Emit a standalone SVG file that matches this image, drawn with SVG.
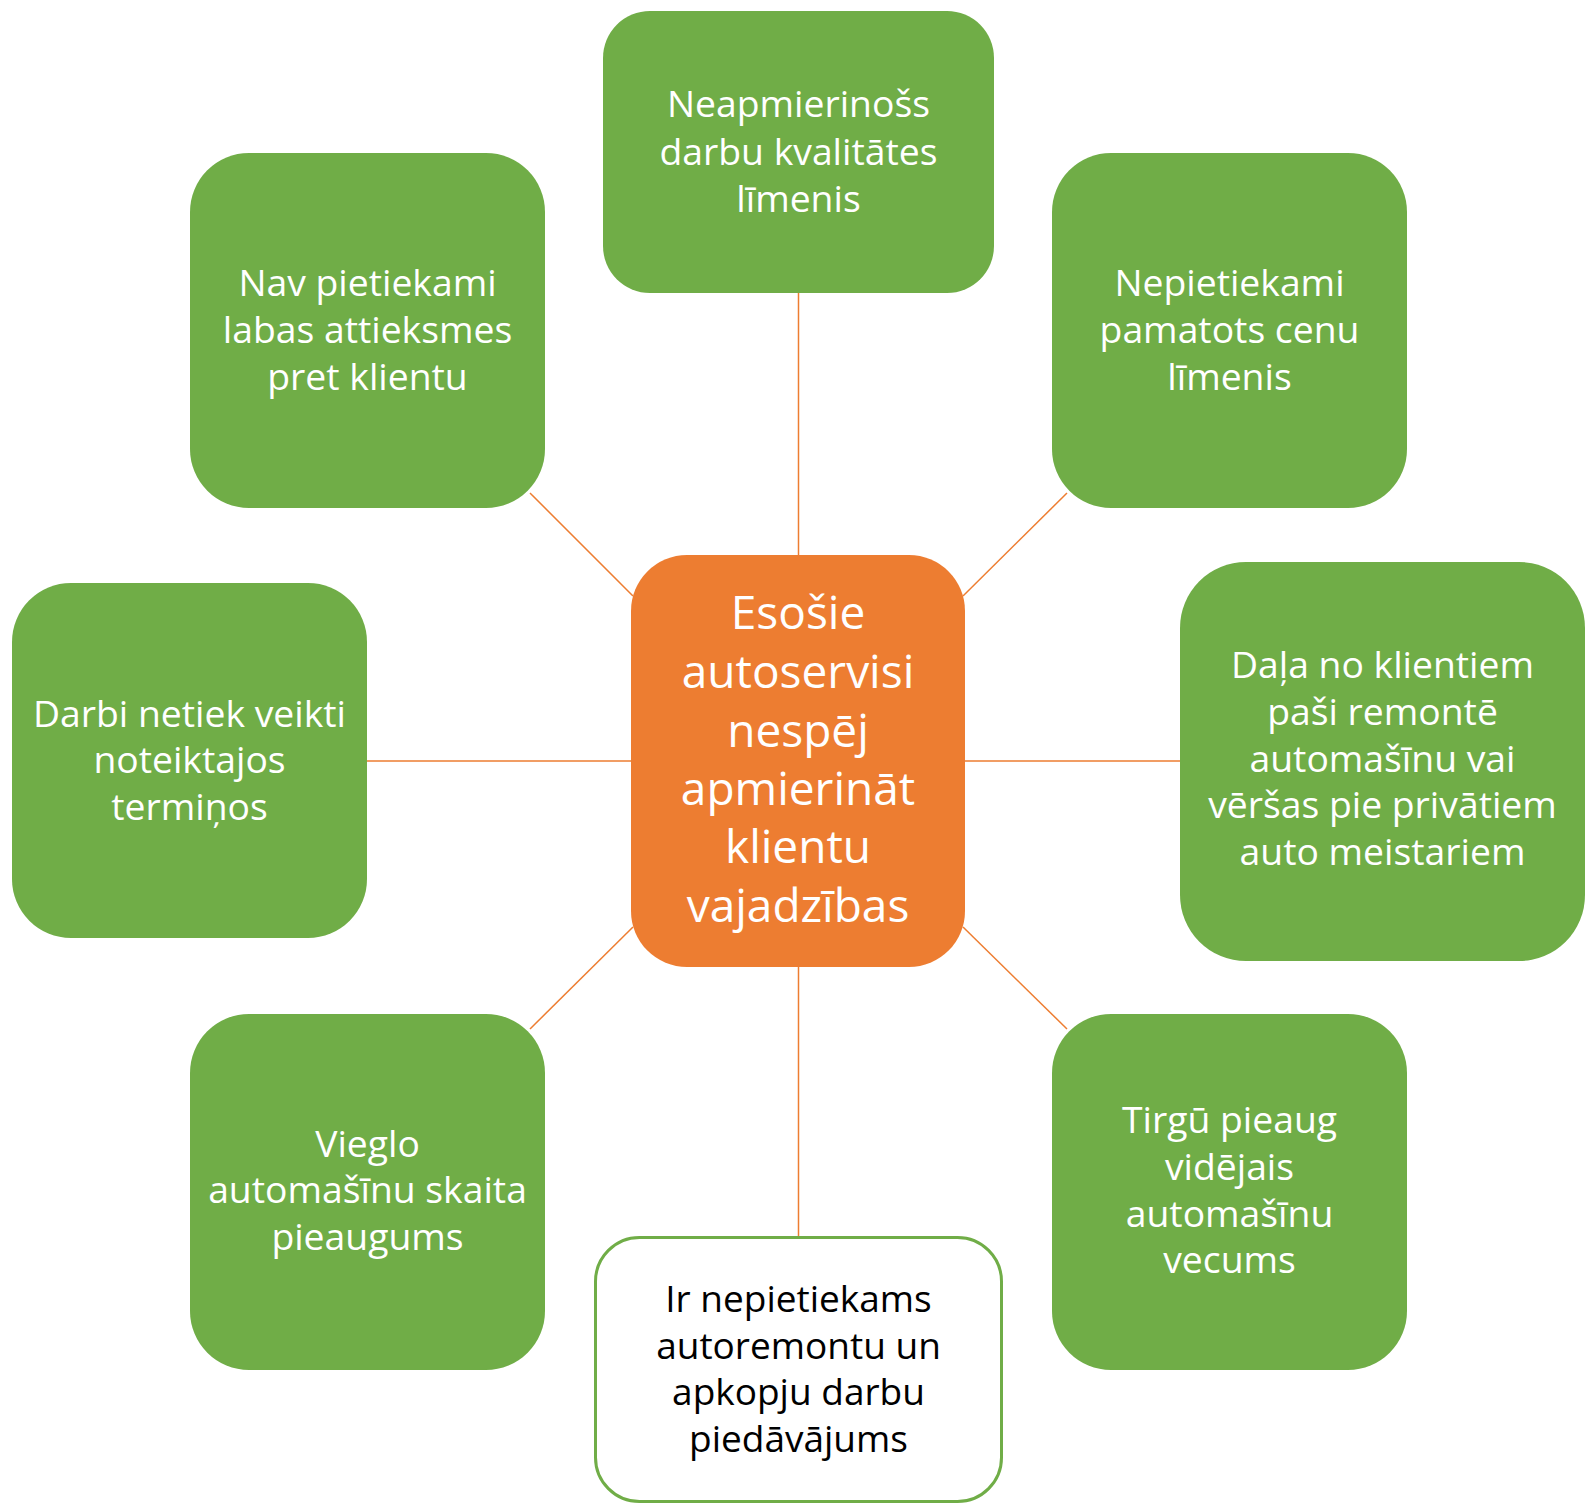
<svg xmlns="http://www.w3.org/2000/svg" width="1588" height="1504" viewBox="0 0 1588 1504">
<style>
.g{fill:#70AD47;}
.c{fill:#ED7D31;}
.w{fill:#FFFFFF;stroke:#70AD47;stroke-width:3;}
.t{font-family:"Open Sans","Liberation Sans",sans-serif;font-size:37.3px;fill:#FFFFFF;text-anchor:middle;}
.tc{font-family:"Open Sans","Liberation Sans",sans-serif;font-size:46px;fill:#FFFFFF;text-anchor:middle;}
.tb{font-family:"Open Sans","Liberation Sans",sans-serif;font-size:37px;fill:#000000;text-anchor:middle;}
.ln{stroke:#ED7D31;stroke-width:1.5;fill:none;}
</style>
<rect width="1588" height="1504" fill="#FFFFFF"/>
<g id="connectors">
<line class="ln" x1="798.5" y1="293" x2="798.5" y2="555"/>
<line class="ln" x1="798.5" y1="967" x2="798.5" y2="1236"/>
<line class="ln" x1="367" y1="761" x2="631" y2="761"/>
<line class="ln" x1="965" y1="761" x2="1180" y2="761"/>
<line class="ln" x1="530" y1="493" x2="633" y2="596"/>
<line class="ln" x1="1067" y1="493" x2="963" y2="596"/>
<line class="ln" x1="633" y1="927" x2="530" y2="1029"/>
<line class="ln" x1="963" y1="927" x2="1067" y2="1029"/>
</g>
<g id="center">
<rect class="c" x="631" y="555" width="334" height="412" rx="56" ry="56"/>
<text class="tc" x="798" y="629">Esošie</text>
<text class="tc" x="798" y="688">autoservisi</text>
<text class="tc" x="798" y="747">nespēj</text>
<text class="tc" x="798" y="805">apmierināt</text>
<text class="tc" x="798" y="863">klientu</text>
<text class="tc" x="798" y="922">vajadzības</text>
</g>
<g id="top">
<rect class="g" x="603" y="11" width="391" height="282" rx="47" ry="47"/>
<text class="t" x="798.5" y="117">Neapmierinošs</text>
<text class="t" x="798.5" y="165">darbu kvalitātes</text>
<text class="t" x="798.5" y="212">līmenis</text>
</g>
<g id="upper-left">
<rect class="g" x="190" y="153" width="355" height="355" rx="59" ry="59"/>
<text class="t" x="367.5" y="296">Nav pietiekami</text>
<text class="t" x="367.5" y="343">labas attieksmes</text>
<text class="t" x="367.5" y="390">pret klientu</text>
</g>
<g id="upper-right">
<rect class="g" x="1052" y="153" width="355" height="355" rx="59" ry="59"/>
<text class="t" x="1229.5" y="296">Nepietiekami</text>
<text class="t" x="1229.5" y="343">pamatots cenu</text>
<text class="t" x="1229.5" y="390">līmenis</text>
</g>
<g id="left">
<rect class="g" x="12" y="583" width="355" height="355" rx="59" ry="59"/>
<text class="t" x="189.5" y="727">Darbi netiek veikti</text>
<text class="t" x="189.5" y="773">noteiktajos</text>
<text class="t" x="189.5" y="820">termiņos</text>
</g>
<g id="right">
<rect class="g" x="1180" y="562" width="405" height="399" rx="66" ry="66"/>
<text class="t" x="1382.5" y="678">Daļa no klientiem</text>
<text class="t" x="1382.5" y="725">paši remontē</text>
<text class="t" x="1382.5" y="772">automašīnu vai</text>
<text class="t" x="1382.5" y="818">vēršas pie privātiem</text>
<text class="t" x="1382.5" y="865">auto meistariem</text>
</g>
<g id="lower-left">
<rect class="g" x="190" y="1014" width="355" height="356" rx="59" ry="59"/>
<text class="t" x="367.5" y="1157">Vieglo</text>
<text class="t" x="367.5" y="1203">automašīnu skaita</text>
<text class="t" x="367.5" y="1250">pieaugums</text>
</g>
<g id="lower-right">
<rect class="g" x="1052" y="1014" width="355" height="356" rx="59" ry="59"/>
<text class="t" x="1229.5" y="1133">Tirgū pieaug</text>
<text class="t" x="1229.5" y="1180">vidējais</text>
<text class="t" x="1229.5" y="1227">automašīnu</text>
<text class="t" x="1229.5" y="1273">vecums</text>
</g>
<g id="bottom">
<rect class="w" x="595.5" y="1237.5" width="406" height="264" rx="44" ry="44"/>
<text class="tb" x="798.5" y="1312">Ir nepietiekams</text>
<text class="tb" x="798.5" y="1358.5">autoremontu un</text>
<text class="tb" x="798.5" y="1405">apkopju darbu</text>
<text class="tb" x="798.5" y="1451.5">piedāvājums</text>
</g>
</svg>
